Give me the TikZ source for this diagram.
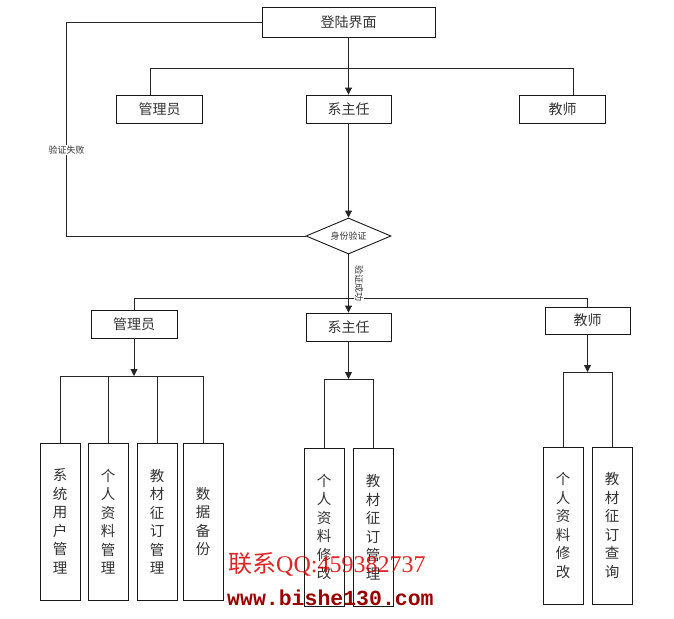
\documentclass[tikz,border=0pt]{standalone}
\usepackage{fontspec}
\setmainfont{Liberation Serif}
\newfontfamily\cjk{Noto Sans CJK SC}
\newfontfamily\wmono{Liberation Mono}
\usetikzlibrary{shapes.geometric,arrows.meta}
\begin{document}
\begin{tikzpicture}[x=1pt,y=-1pt,
  ln/.style={line width=0.9pt, draw=black!85},
  arr/.style={ln, -{Triangle[length=7pt,width=7pt]}},
  box/.style={draw=black!90, line width=0.9pt, inner sep=0pt, fill=white,
    font=\cjk\fontsize{14}{16}\selectfont, text=black!80},
  leaf/.style={box, minimum width=40pt, minimum height=157pt, align=center,
    font=\cjk\fontsize{14.5}{18.5}\selectfont},
  small/.style={font=\cjk\fontsize{9}{11}\selectfont, text=black!80}]
\useasboundingbox (0,0) rectangle (674,618);
\fill[white] (0,0) rectangle (674,618);

% top level
\node[box, minimum width=173pt, minimum height=30pt] (login) at (348.5,22) {登陆界面};
\node[box, minimum width=86pt, minimum height=28pt] (admin1) at (159.5,109) {管理员};
\node[box, minimum width=85pt, minimum height=28pt] (dir1) at (348.5,109) {系主任};
\node[box, minimum width=86pt, minimum height=28pt] (teach1) at (562.5,109) {教师};
\node[box, shape=diamond, aspect=2.36, minimum width=85pt, minimum height=36pt,
  font=\cjk\fontsize{9}{11}\selectfont] (check) at (348.5,236) {身份验证};

% second level
\node[box, minimum width=86pt, minimum height=28pt] (admin2) at (134,324) {管理员};
\node[box, minimum width=85pt, minimum height=28pt] (dir2) at (348.5,327) {系主任};
\node[box, minimum width=85pt, minimum height=27pt] (teach2) at (587.5,320.5) {教师};

% leaves
\node[leaf] (a1) at (60,521.5) {系\\统\\用\\户\\管\\理};
\node[leaf] (a2) at (108,521.5) {个\\人\\资\\料\\管\\理};
\node[leaf] (a3) at (157,521.5) {教\\材\\征\\订\\管\\理};
\node[leaf] (a4) at (203,521.5) {数\\据\\备\\份};
\node[leaf, minimum height=158pt] (d1) at (324,527) {个\\人\\资\\料\\修\\改};
\node[leaf, minimum height=158pt] (d2) at (373,527) {教\\材\\征\\订\\管\\理};
\node[leaf] (t1) at (563,525.5) {个\\人\\资\\料\\修\\改};
\node[leaf] (t2) at (612,525.5) {教\\材\\征\\订\\查\\询};

% connectors top
\coordinate (fail) at (66.5,22);
\draw[ln] (login.west) -- (fail) -- (66.5,236) -- (check.west);
\node[small, fill=white, inner sep=1pt] (faillbl) at (66.5,150) {验证失败};
\draw[arr] (login.south) -- (dir1.north);
\draw[ln] (admin1.north -| 150,0) -- (150,68) -- (573,68) -- (teach1.north -| 573,0);
\draw[arr] (dir1.south) -- (check.north);

% connectors middle
\draw[ln] (admin2.north) -- (134,298) -- (587.5,298) -- (teach2.north);
\draw[arr] (check.south) -- (dir2.north);
\node[small, rotate=-90, fill=white, inner sep=1pt] (oklbl) at (359,283) {验证成功};

% connectors bottom
\coordinate (ab) at (134,376);
\draw[arr] (admin2.south) -- (ab);
\draw[ln] (a1.north) -- (60,376) -- (203,376) -- (a4.north);
\draw[ln] (a2.north) -- (108,376);
\draw[ln] (a3.north) -- (157,376);

\coordinate (db) at (348.5,379);
\draw[arr] (dir2.south) -- (db);
\draw[ln] (d1.north) -- (324,379) -- (373,379) -- (d2.north);

\coordinate (tb) at (587.5,372);
\draw[arr] (teach2.south) -- (tb);
\draw[ln] (t1.north) -- (563,372) -- (612,372) -- (t2.north);

% watermark
\node[anchor=west, inner sep=0pt, text=red!85!black, opacity=0.85,
  font=\fontsize{24}{26}\selectfont] (wm1) at (228,564) {{\cjk 联系}QQ:459382737};
\node[anchor=west, inner sep=0pt, text=red!60!black,
  font=\wmono\bfseries\fontsize{21.5}{23}\selectfont] (wm2) at (227,598) {www.bishe130.com};
\end{tikzpicture}
\end{document}
